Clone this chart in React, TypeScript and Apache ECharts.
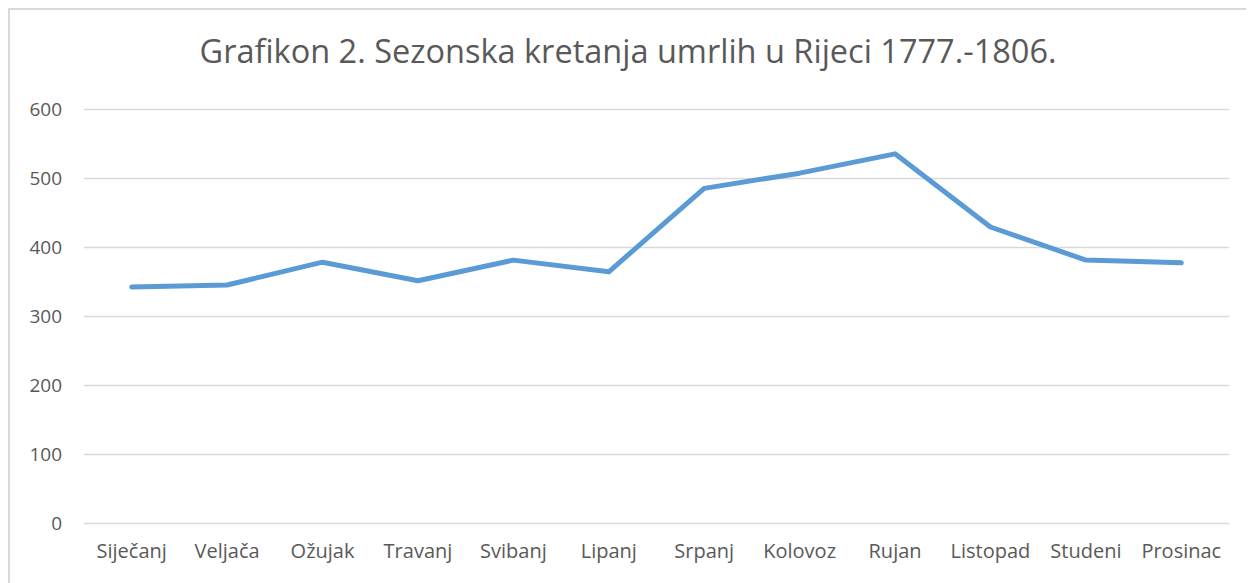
import React, { useEffect, useRef } from "react";
import * as echarts from "echarts";

const titleText = "Grafikon 2. Sezonska kretanja umrlih u Rijeci 1777.-1806.";
const months = [
  "Siječanj", "Veljača", "Ožujak", "Travanj", "Svibanj", "Lipanj",
  "Srpanj", "Kolovoz", "Rujan", "Listopad", "Studeni", "Prosinac",
];
const deaths = [342, 345, 378, 351, 381, 364, 485, 507, 535, 429, 381, 377];
const yMin = 0;
const yMax = 600;
const yStep = 100;

export default function App() {
  const ref = useRef<HTMLDivElement>(null);
  useEffect(() => {
    if (!ref.current) return;
    const chart = echarts.init(ref.current, undefined, { renderer: "svg" });
    const font = "'Open Sans', sans-serif";
    chart.setOption({
      animation: false,
      backgroundColor: "#ffffff",
      title: {
        text: titleText,
        left: "center",
        top: 24,
        padding: 0,
        textStyle: { fontFamily: font, fontSize: 32.5, fontWeight: "normal", color: "#595959" },
      },
      grid: { left: 74, right: 17, top: 99, bottom: 60, containLabel: false },
      xAxis: {
        type: "category",
        data: months,
        boundaryGap: true,
        axisLine: { show: false },
        axisTick: { show: false },
        axisLabel: { color: "#595959", fontFamily: font, fontSize: 20, margin: 17, interval: 0 },
      },
      yAxis: {
        type: "value",
        min: yMin,
        max: yMax,
        interval: yStep,
        axisLine: { show: false },
        axisTick: { show: false },
        axisLabel: { color: "#595959", fontFamily: font, fontSize: 19, margin: 22 },
        splitLine: { lineStyle: { color: "#d9d9d9", width: 1.3 } },
      },
      series: [
        {
          type: "line",
          data: deaths,
          symbol: "none",
          lineStyle: { color: "#5b9bd5", width: 5, cap: "round", join: "round" },
        },
      ],
    });
    return () => chart.dispose();
  }, []);
  return (
    <div
      style={{
        width: 1238,
        height: 575,
        borderTop: "2px solid #d9d9d9",
        borderLeft: "2px solid #d9d9d9",
        boxSizing: "border-box",
        overflow: "hidden",
      }}
    >
      <div ref={ref} style={{ width: 1236, height: 573 }} />
    </div>
  );
}
